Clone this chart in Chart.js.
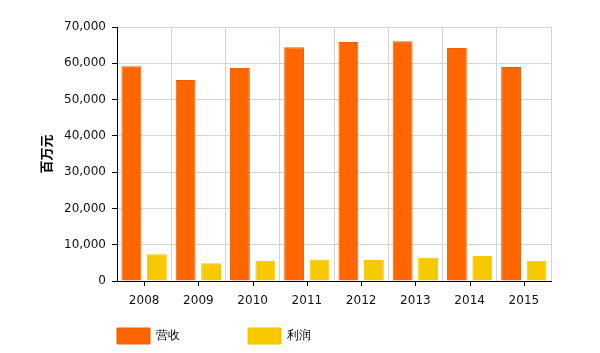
<!DOCTYPE html>
<html>
<head>
<meta charset="utf-8">
<script src="https://cdn.jsdelivr.net/npm/chart.js@4"></script>
<style>
html,body{margin:0;padding:0;background:#fff;}
#wrap{width:600px;height:353px;}
</style>
</head>
<body>
<div id="wrap"><canvas id="c" width="600" height="353"></canvas></div>
<script>
const years = ['2008','2009','2010','2011','2012','2013','2014','2015'];
const revenue = [59200, 55400, 58700, 64400, 65900, 66100, 64200, 59000];
const profit = [7400, 4900, 5600, 5900, 5800, 6400, 6900, 5600];
const seriesNames = ['营收','利润'];
const yTitle = '百万元';

const FONT = "'DejaVu Sans', Verdana, sans-serif";

const centerTicks = {
  id: 'centerTicks',
  afterLayout(chart) {
    chart.legend.left = 117 - 68;
    chart.legend.top = 328 - 68;
  },
  afterDraw(chart) {
    const x = chart.scales.x, ctx = chart.ctx;
    const b = chart.chartArea.bottom;
    ctx.save();
    ctx.strokeStyle = '#000';
    ctx.lineWidth = 1;
    years.forEach((_, i) => {
      const px = Math.round(x.getPixelForValue(i)) + 0.5;
      ctx.beginPath();
      ctx.moveTo(px, b);
      ctx.lineTo(px, b + 5);
      ctx.stroke();
    });
    ctx.restore();
  }
};

new Chart(document.getElementById('c'), {
  type: 'bar',
  data: {
    labels: years,
    datasets: [
      { label: seriesNames[0], data: revenue, backgroundColor: '#FF6600', borderColor: '#E85E00', borderWidth: 1 },
      { label: seriesNames[1], data: profit, backgroundColor: '#F6CA00', borderColor: '#F0C400', borderWidth: 1 }
    ]
  },
  options: {
    responsive: false,
    animation: false,
    devicePixelRatio: 1,
    layout: { padding: { left: 38, right: 49, top: 27, bottom: 0 } },
    datasets: { bar: { categoryPercentage: 0.94, barPercentage: 0.78 } },
    plugins: {
      tooltip: { enabled: false },
      legend: {
        position: 'bottom',
        align: 'start',
        maxHeight: 40,
        labels: {
          boxWidth: 33,
          boxHeight: 16,
          padding: 68,
          color: '#000',
          font: { family: FONT, size: 12 }
        }
      }
    },
    scales: {
      x: {
        offset: true,
        grid: { offset: true, color: '#d4d4d4', drawTicks: false },
        border: { color: '#000', width: 1 },
        ticks: { color: '#111', padding: 13, font: { family: FONT, size: 12 } },
        afterFit(s) { s.height = 32; }
      },
      y: {
        min: 0, max: 70000,
        ticks: { stepSize: 10000, color: '#111', padding: 6, font: { family: FONT, size: 12 },
          callback: v => v.toLocaleString('en-US') },
        grid: { color: '#d4d4d4', tickColor: '#000', tickLength: 5 },
        border: { color: '#000', width: 1 },
        title: { display: true, text: yTitle, color: '#000', padding: 0,
          font: { family: "'Noto Sans CJK SC', sans-serif", size: 13, weight: 'bold' } },
        afterFit(s) { s.width = 79; }
      }
    }
  },
  plugins: [centerTicks]
});
</script>
</body>
</html>
